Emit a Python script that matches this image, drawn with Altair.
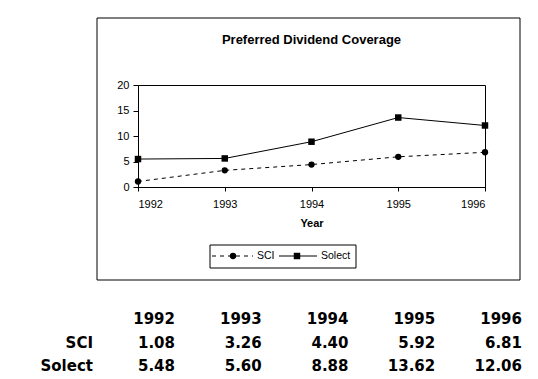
import altair as alt
import pandas as pd

# ---- data ----
years = [1992, 1993, 1994, 1995, 1996]
series_names = ["SCI", "Solect"]
sci = [1.08, 3.26, 4.40, 5.92, 6.81]
solect = [5.48, 5.60, 8.88, 13.62, 12.06]
title_text = "Preferred Dividend Coverage"
x_title = "Year"
y_ticks = [0, 5, 10, 15, 20]

rows = []
for name, vals in zip(series_names, [sci, solect]):
    for y, v in zip(years, vals):
        rows.append({"year": y, "series": name, "value": v})
df = pd.DataFrame(rows)
one = pd.DataFrame({"k": [0]})

W, H = 347, 102
FONT = "Liberation Sans"
TFONT = "DejaVu Sans"

xscale = alt.Scale(domain=[years[0], years[-1]], nice=False, zero=False)
yscale = alt.Scale(domain=[0, 20], nice=False, zero=True)

xaxis = alt.Axis(values=years, format="d", title=x_title, grid=False,
                 tickSize=4, labelPadding=7, titlePadding=8,
                 labelFontSize=11, titleFontSize=11, titleFontWeight="bold",
                 labelFont=FONT, titleFont=FONT, labelOverlap=False)
yaxis = alt.Axis(values=y_ticks, tickCount=5, title=None, grid=False, tickSize=5,
                 labelPadding=4, labelFontSize=11, labelFont=FONT,
                 labelOverlap=False)

X = alt.X("year:Q", scale=xscale, axis=xaxis)
Y = alt.Y("value:Q", scale=yscale, axis=yaxis)

base = alt.Chart(df)

sci_line = base.transform_filter(alt.datum.series == "SCI").mark_line(
    color="black", strokeWidth=1, strokeDash=[4, 4]).encode(x=X, y=Y)
sci_pts = base.transform_filter(alt.datum.series == "SCI").mark_point(
    shape="circle", filled=True, color="black", size=40, opacity=1).encode(x=X, y=Y)
sol_line = base.transform_filter(alt.datum.series == "Solect").mark_line(
    color="black", strokeWidth=1).encode(x=X, y=Y)
sol_pts = base.transform_filter(alt.datum.series == "Solect").mark_point(
    shape="square", filled=True, color="black", size=42, opacity=1).encode(x=X, y=Y)

# outer frame
frame = alt.Chart(one).mark_rect(fill=None, stroke="black", strokeWidth=1).encode(
    x=alt.value(-41), x2=alt.value(382), y=alt.value(-67), y2=alt.value(195))

title = alt.Chart(one).mark_text(text=title_text, font=FONT, fontSize=13,
                                 fontWeight="bold", align="center",
                                 baseline="alphabetic", color="black").encode(
    x=alt.value(W / 2), y=alt.value(-41))

# legend
leg_frame = alt.Chart(one).mark_rect(fill="white", stroke="black", strokeWidth=1).encode(
    x=alt.value(72), x2=alt.value(218), y=alt.value(160), y2=alt.value(183))
leg_y = 171
leg_sci_line = alt.Chart(one).mark_rule(color="black", strokeWidth=1, strokeDash=[4, 4]).encode(
    x=alt.value(74), x2=alt.value(115), y=alt.value(leg_y))
leg_sci_pt = alt.Chart(one).mark_point(shape="circle", filled=True, color="black",
                                       size=40, opacity=1).encode(
    x=alt.value(95), y=alt.value(leg_y))
leg_sci_txt = alt.Chart(one).mark_text(text=series_names[0], font=FONT, fontSize=10.5,
                                       align="left", baseline="middle", color="black").encode(
    x=alt.value(119), y=alt.value(leg_y))
leg_sol_line = alt.Chart(one).mark_rule(color="black", strokeWidth=1).encode(
    x=alt.value(141), x2=alt.value(179), y=alt.value(leg_y))
leg_sol_pt = alt.Chart(one).mark_point(shape="square", filled=True, color="black",
                                       size=42, opacity=1).encode(
    x=alt.value(159), y=alt.value(leg_y))
leg_sol_txt = alt.Chart(one).mark_text(text=series_names[1], font=FONT, fontSize=10.5,
                                       align="left", baseline="middle", color="black").encode(
    x=alt.value(183), y=alt.value(leg_y))

# data table below the chart
TSIZE = 15
DX = 37
Y_HDR, Y_SCI, Y_SOL = 239, 263, 286
hdr = base.transform_filter(alt.datum.series == "SCI").mark_text(
    font=TFONT, fontSize=TSIZE, fontWeight="bold", align="right",
    baseline="alphabetic", dx=DX, color="black").encode(
    x=X, y=alt.value(Y_HDR), text=alt.Text("year:Q", format="d"))
row_sci = base.transform_filter(alt.datum.series == "SCI").mark_text(
    font=TFONT, fontSize=TSIZE, fontWeight="bold", align="right",
    baseline="alphabetic", dx=DX, color="black").encode(
    x=X, y=alt.value(Y_SCI), text=alt.Text("value:Q", format=".2f"))
row_sol = base.transform_filter(alt.datum.series == "Solect").mark_text(
    font=TFONT, fontSize=TSIZE, fontWeight="bold", align="right",
    baseline="alphabetic", dx=DX, color="black").encode(
    x=X, y=alt.value(Y_SOL), text=alt.Text("value:Q", format=".2f"))
lab_sci = alt.Chart(one).mark_text(text=series_names[0], font=TFONT, fontSize=TSIZE,
                                   fontWeight="bold", align="right",
                                   baseline="alphabetic", color="black").encode(
    x=alt.value(-45), y=alt.value(Y_SCI))
lab_sol = alt.Chart(one).mark_text(text=series_names[1], font=TFONT, fontSize=TSIZE,
                                   fontWeight="bold", align="right",
                                   baseline="alphabetic", color="black").encode(
    x=alt.value(-45), y=alt.value(Y_SOL))

chart = alt.layer(
    sci_line, sol_line, sci_pts, sol_pts, frame, title,
    leg_frame, leg_sci_line, leg_sci_pt, leg_sci_txt,
    leg_sol_line, leg_sol_pt, leg_sol_txt,
    hdr, row_sci, row_sol, lab_sci, lab_sol,
).properties(
    width=W, height=H,
    autosize=alt.AutoSizeParams(type="none"),
    padding={"left": 130, "top": 77, "right": 45, "bottom": 188},
    background="white",
).configure_view(
    stroke="black", strokeWidth=1
).configure_axis(
    domainColor="black", tickColor="black", labelColor="black",
    titleColor="black", domainWidth=1, tickWidth=1
)

chart.save("out.html", embed_options={"renderer": "svg", "actions": False})
